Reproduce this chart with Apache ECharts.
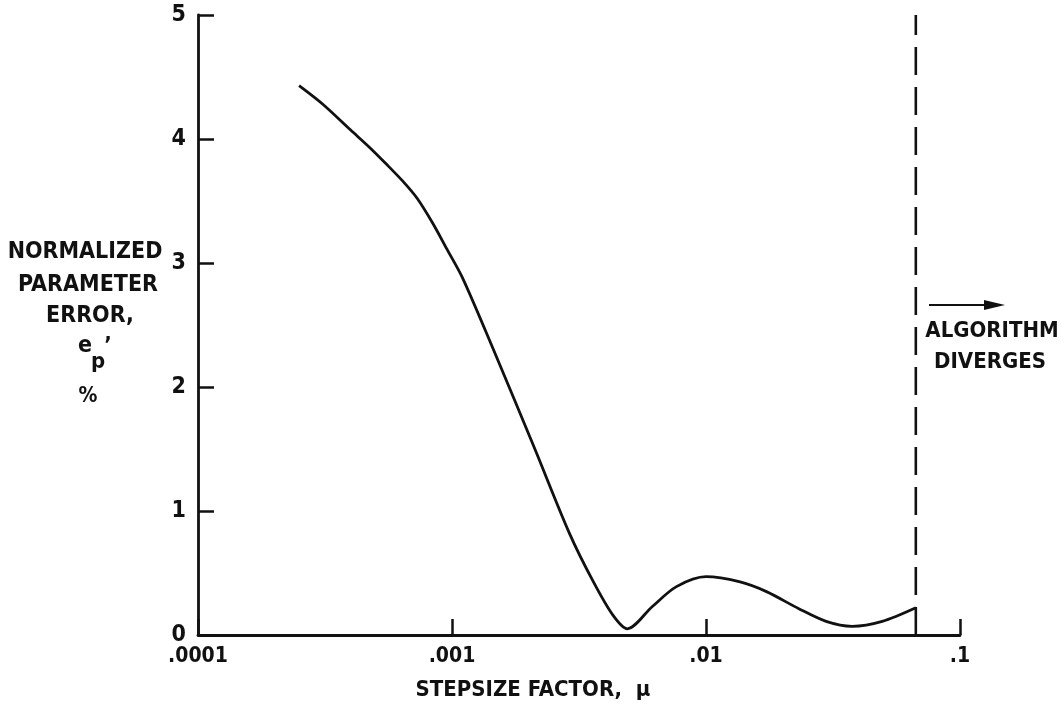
<!DOCTYPE html>
<html>
<head>
<meta charset="utf-8">
<title>Normalized parameter error vs stepsize factor</title>
<script src="https://cdn.jsdelivr.net/npm/echarts@6/dist/echarts.min.js"></script>
<style>
  html, body { margin: 0; padding: 0; background: #fff; }
  #chart { width: 1061px; height: 712px; }
</style>
</head>
<body>
<div id="chart"></div>
<script>
// values
const stepSize = [0.00025, 0.00031, 0.0004, 0.000475, 0.00055, 0.00064, 0.00073, 0.00084, 0.00095, 0.0011,
  0.00145, 0.0021, 0.0029, 0.0036, 0.0043, 0.0049, 0.00615, 0.00765, 0.01, 0.0135,
  0.0173, 0.0233, 0.0297, 0.0376, 0.0494, 0.067]
const paramError = [4.43, 4.28, 4.07, 3.93, 3.8, 3.66, 3.52, 3.32, 3.12, 2.88,
  2.31, 1.52, 0.82, 0.43, 0.16, 0.05, 0.23, 0.39, 0.47, 0.43,
  0.35, 0.21, 0.11, 0.07, 0.11, 0.22]
const divergeAt = 0.067
const xTickLabels = ['.0001', '.001', '.01', '.1']
const yTickLabels = ['0', '1', '2', '3', '4', '5']

const FONT = "'Liberation Sans Narrow', 'DejaVu Sans Condensed', 'Roboto', sans-serif"
const INK = '#111'

const chart = echarts.init(document.getElementById('chart'))

const txt = (text, x, y, size, extra) => Object.assign({
  type: 'text',
  x: x,
  y: y,
  style: {
    text: text,
    fill: INK,
    font: 'bold ' + size + 'px ' + FONT,
    align: 'center',
    verticalAlign: 'middle'
  }
}, extra || {})

chart.setOption({
  animation: false,
  backgroundColor: '#fff',
  grid: {
    left: 198,
    right: 101,
    top: 15,
    bottom: 77
  },
  xAxis: {
    type: 'log',
    logBase: 10,
    min: 0.0001,
    max: 0.1,
    axisLine: { lineStyle: { color: INK, width: 2.8 } },
    axisTick: { inside: true, length: 16, lineStyle: { color: INK, width: 2.5 } },
    minorTick: { show: false },
    splitLine: { show: false },
    axisLabel: {
      color: INK,
      fontFamily: FONT,
      fontSize: 21,
      fontWeight: 'bold',
      margin: 11,
      formatter: v => xTickLabels[Math.round(Math.log10(v)) + 4]
    }
  },
  yAxis: {
    type: 'value',
    min: 0,
    max: 5,
    interval: 1,
    axisLine: { show: true, lineStyle: { color: INK, width: 2.8 } },
    axisTick: { show: true, inside: true, length: 16, lineStyle: { color: INK, width: 2.5 } },
    splitLine: { show: false },
    axisLabel: {
      color: INK,
      fontFamily: FONT,
      fontSize: 23,
      fontWeight: 'bold',
      margin: 12,
      formatter: v => yTickLabels[Math.round(v)]
    }
  },
  series: [
    {
      name: 'error',
      type: 'line',
      data: stepSize.map((s, i) => [s, paramError[i]]),
      smooth: 0.3,
      showSymbol: false,
      lineStyle: { color: INK, width: 2.8 }
    },
    {
      name: 'diverge',
      type: 'line',
      data: [[divergeAt, 0], [divergeAt, 5]],
      showSymbol: false,
      lineStyle: { color: INK, width: 2.6, type: [28, 12] }
    }
  ],
  graphic: [
    txt('NORMALIZED', 85, 252, 23),
    txt('PARAMETER', 88, 285, 23),
    txt('ERROR,', 90, 316, 23),
    txt('e', 85, 346, 23),
    txt('p', 98, 362, 22),
    txt('\u2019', 108, 346, 22),
    txt('%', 88, 397, 21),
    txt('STEPSIZE FACTOR,  \u03bc', 533, 690, 22),
    txt('ALGORITHM', 992, 331, 22),
    txt('DIVERGES', 990, 362, 22),
    {
      type: 'line',
      shape: { x1: 929, y1: 305, x2: 992, y2: 305 },
      style: { stroke: INK, lineWidth: 2 }
    },
    {
      type: 'polygon',
      shape: { points: [[984, 300], [1005, 305], [984, 310]] },
      style: { fill: INK }
    }
  ]
})
</script>
</body>
</html>
